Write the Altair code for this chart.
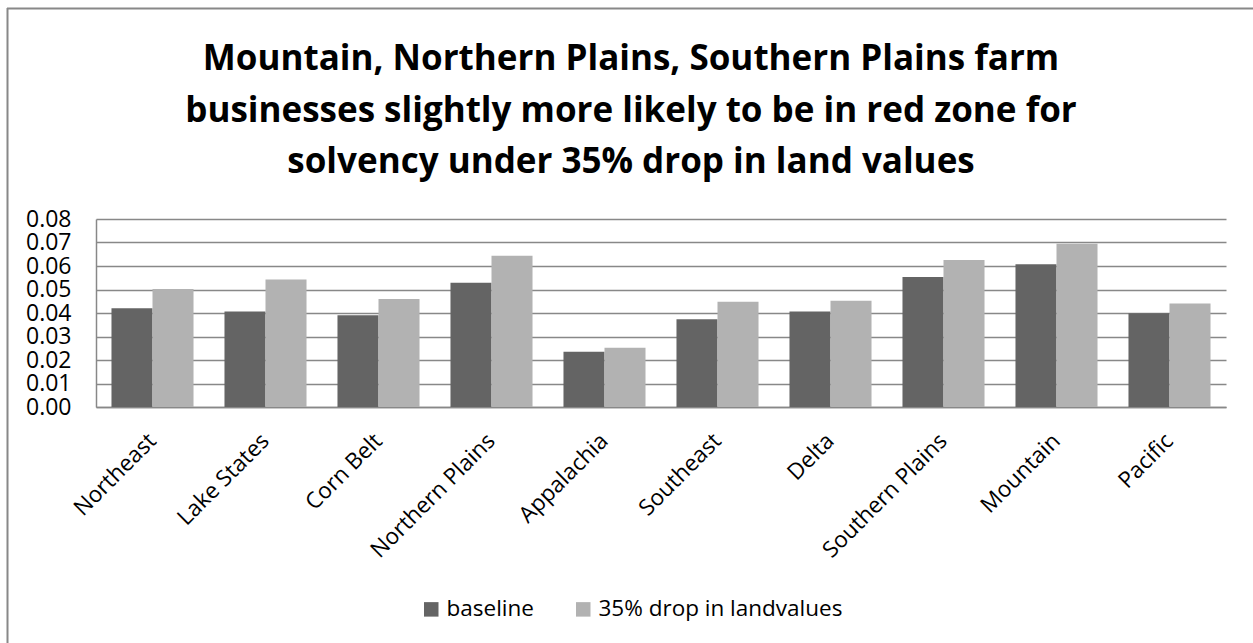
import altair as alt
import pandas as pd

# Share of farm businesses in the solvency red zone, by farm production region
regions = [
    "Northeast", "Lake States", "Corn Belt", "Northern Plains", "Appalachia",
    "Southeast", "Delta", "Southern Plains", "Mountain", "Pacific",
]
baseline = [0.0420, 0.0406, 0.0390, 0.0529, 0.0235, 0.0373, 0.0406, 0.0553, 0.0607, 0.0399]
drop_35 = [0.0502, 0.0543, 0.0460, 0.0644, 0.0252, 0.0448, 0.0452, 0.0626, 0.0695, 0.0440]
series_names = ["baseline", "35% drop in landvalues"]
series_colors = ["#646464", "#b2b2b2"]
y_ticks = [0.0, 0.01, 0.02, 0.03, 0.04, 0.05, 0.06, 0.07, 0.08]

title_lines = [
    "Mountain, Northern Plains, Southern Plains farm",
    "businesses slightly more likely to be in red zone for",
    "solvency under 35% drop in land values",
]

rows = []
for region, b, d in zip(regions, baseline, drop_35):
    rows.append({"region": region, "series": series_names[0], "value": b})
    rows.append({"region": region, "series": series_names[1], "value": d})
df = pd.DataFrame(rows)

FONT = "Open Sans"
LINE = "#888888"

bars = alt.Chart(df).mark_bar().encode(
    x=alt.X(
        "region:N",
        sort=regions,
        title=None,
        scale=alt.Scale(paddingInner=0.274, paddingOuter=0.137),
        axis=alt.Axis(
            labelAngle=-45, labelAlign="right", labelBaseline="middle",
            ticks=False, labelPadding=30, labelOverlap=False,
            domainColor=LINE, domainWidth=1.5, grid=False,
            labelFont=FONT, labelFontSize=22.5, labelColor="black",
        ),
    ),
    xOffset=alt.XOffset(
        "series:N", sort=series_names,
        scale=alt.Scale(domain=series_names, paddingInner=0, paddingOuter=0),
    ),
    y=alt.Y(
        "value:Q",
        title=None,
        scale=alt.Scale(domain=[0, 0.08], nice=False, zero=True),
        axis=alt.Axis(
            values=y_ticks, format=".2f", ticks=False, labelPadding=25,
            labelOverlap=False, labelFlush=False,
            grid=True, gridColor=LINE, gridWidth=1.5,
            domainColor=LINE, domainWidth=1.5,
            labelFont=FONT, labelFontSize=23, labelColor="black",
        ),
    ),
    color=alt.Color(
        "series:N",
        sort=series_names,
        scale=alt.Scale(domain=series_names, range=series_colors),
        legend=alt.Legend(
            title=None, orient="none", direction="horizontal",
            legendX=324, legendY=379, padding=0,
            symbolType="square", symbolSize=210, symbolStrokeWidth=0,
            symbolOpacity=1, columnPadding=38, labelOffset=4, labelLimit=400,
            labelFont=FONT, labelFontSize=22.5, labelColor="black",
        ),
    ),
)

# Outer chart frame (top and left edges)
one = pd.DataFrame({"k": [0]})
frame_top = alt.Chart(one).mark_rule(color=LINE, strokeWidth=2).encode(
    x=alt.value(-89), x2=alt.value(1157), y=alt.value(-210.5)
)
frame_left = alt.Chart(one).mark_rule(color=LINE, strokeWidth=2).encode(
    x=alt.value(-88.5), y=alt.value(-211), y2=alt.value(430)
)

chart = alt.layer(frame_top, frame_left, bars).properties(
    width=1130,
    height=188,
    autosize=alt.AutoSizeParams(type="none"),
    padding={"left": 96, "top": 219, "right": 27, "bottom": 236},
    background="white",
    title=alt.TitleParams(
        text=title_lines, font=FONT, fontSize=35, fontWeight="bold",
        color="black", lineHeight=51.5, anchor="middle", frame="group",
        dx=-30, dy=177,
    ),
).configure_view(stroke=None)

chart.save("out.html", embed_options={"renderer": "svg", "actions": False})
